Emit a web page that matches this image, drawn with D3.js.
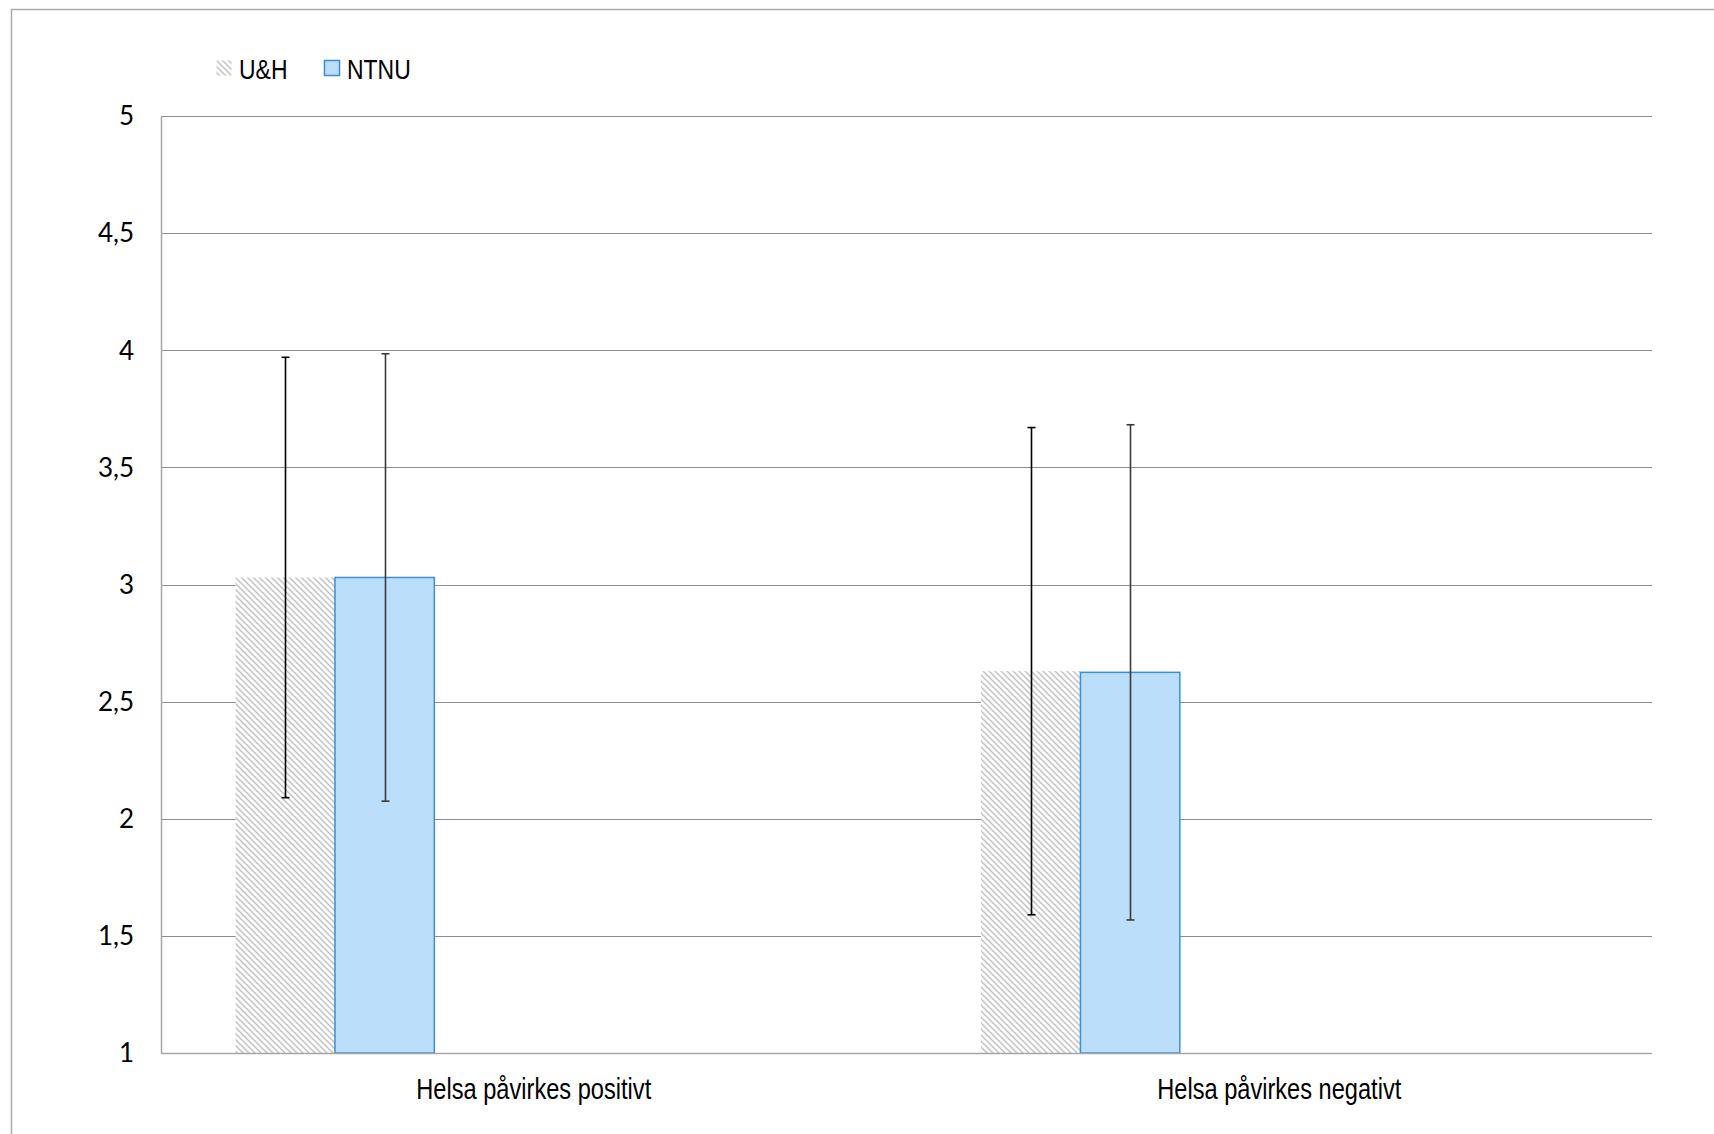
<!DOCTYPE html>
<html>
<head>
<meta charset="utf-8">
<script src="https://cdn.jsdelivr.net/npm/d3@7.9.0/dist/d3.min.js"></script>
<style>
  body { margin: 0; background: #fff; }
  svg { display: block; }
  .narrow { font-family: "Liberation Sans Narrow", "Arial Narrow", "Liberation Sans", sans-serif; }
  .tick-label { font-family: Lato, Carlito, Calibri, sans-serif; }
</style>
</head>
<body>
<svg id="chart" width="1714" height="1134"></svg>
<script>
const categories = ['Helsa påvirkes positivt', 'Helsa påvirkes negativt'];
const seriesNames = ['U&H', 'NTNU'];
// mean values and error bar half-widths, per series, per category
const uhMeans = [3.03, 2.63];
const uhErr = [0.94, 1.04];
const ntnuMeans = [3.03, 2.625];
const ntnuErr = [0.955, 1.057];
const yTicks = [1, 1.5, 2, 2.5, 3, 3.5, 4, 4.5, 5];

const means = [uhMeans, ntnuMeans];
const errs = [uhErr, ntnuErr];

const W = 1714, H = 1134;
const margin = { left: 161, right: W - 1652, top: 116, bottom: H - 1053 };
const squeeze = 0.82; // narrow font emulation

const svg = d3.select('#chart');

// hatch pattern for U&H
const defs = svg.append('defs');
const pat = defs.append('pattern')
  .attr('id', 'hatch')
  .attr('patternUnits', 'userSpaceOnUse')
  .attr('width', 6).attr('height', 6);
pat.append('rect').attr('width', 6).attr('height', 6).attr('fill', '#fff');
pat.append('path')
  .attr('d', 'M-1,-1 L7,7 M-1,5 L1,7 M5,-1 L7,1')
  .attr('stroke', '#c2c2c2')
  .attr('stroke-width', 1.5);

// outer frame
svg.append('path')
  .attr('d', `M11.5,${H} L11.5,9.5 L${W},9.5`)
  .attr('fill', 'none')
  .attr('stroke', '#ababab')
  .attr('stroke-width', 1.5);

const y = d3.scaleLinear().domain([1, 5]).range([H - margin.bottom, margin.top]);
const x0 = d3.scaleBand().domain(categories).range([margin.left, W - margin.right]);
// Excel-style clustered layout: 6 slots with 150% gap, only the first two used
const barW = x0.bandwidth() / 7.5;
const x1 = d3.scaleBand().domain(seriesNames)
  .range([barW * 0.75, barW * 2.75]);

// gridlines
svg.append('g')
  .selectAll('line')
  .data(yTicks.slice(1))
  .join('line')
  .attr('x1', margin.left).attr('x2', W - margin.right)
  .attr('y1', d => Math.round(y(d)) + 0.5).attr('y2', d => Math.round(y(d)) + 0.5)
  .attr('stroke', '#8c8c8c')
  .attr('stroke-width', 1.2);

// axes lines
svg.append('line')
  .attr('x1', margin.left + 0.5).attr('x2', margin.left + 0.5)
  .attr('y1', margin.top).attr('y2', y(1))
  .attr('stroke', '#a6a6a6').attr('stroke-width', 1.5);

// y tick labels
svg.append('g')
  .selectAll('text')
  .data(yTicks)
  .join('text')
  .attr('class', 'tick-label')
  .attr('x', 134)
  .attr('y', d => y(d))
  .attr('dy', '0.36em')
  .attr('text-anchor', 'end')
  .attr('font-size', 26)
  .attr('fill', '#000')
  .text(d => String(d).replace('.', ','));

// bars
const fills = ['url(#hatch)', '#bbdefb'];
const strokes = ['none', '#3a8ed4'];
seriesNames.forEach((s, si) => {
  const g = svg.append('g');
  g.selectAll('rect')
    .data(categories)
    .join('rect')
    .attr('x', d => x0(d) + x1(s))
    .attr('width', x1.bandwidth())
    .attr('y', (d, i) => y(means[si][i]))
    .attr('height', (d, i) => y(1) - y(means[si][i]))
    .attr('fill', fills[si])
    .attr('stroke', strokes[si])
    .attr('stroke-width', 1.5);
});

// bottom axis line
svg.append('line')
  .attr('x1', margin.left).attr('x2', W - margin.right)
  .attr('y1', y(1) + 0.5).attr('y2', y(1) + 0.5)
  .attr('stroke', '#a6a6a6').attr('stroke-width', 1.5);

// error bars
const errColors = ['#000', '#3a3a3a'];
seriesNames.forEach((s, si) => {
  categories.forEach((c, i) => {
    const cx = Math.round(x0(c) + x1(s) + x1.bandwidth() / 2) + 0.5;
    const hi = y(means[si][i] + errs[si][i]);
    const lo = y(means[si][i] - errs[si][i]);
    const g = svg.append('g').attr('stroke', errColors[si]).attr('stroke-width', 1.6);
    g.append('line').attr('x1', cx).attr('x2', cx).attr('y1', hi).attr('y2', lo);
    g.append('line').attr('x1', cx - 4).attr('x2', cx + 4).attr('y1', hi).attr('y2', hi);
    g.append('line').attr('x1', cx - 4).attr('x2', cx + 4).attr('y1', lo).attr('y2', lo);
  });
});

// category labels
svg.append('g')
  .selectAll('text')
  .data(categories)
  .join('text')
  .attr('class', 'narrow')
  .attr('transform', d => `translate(${x0(d) + x0.bandwidth() / 2},1099) scale(${squeeze},1)`)
  .attr('text-anchor', 'middle')
  .attr('font-size', 28.8)
  .attr('fill', '#000')
  .text(d => d);

// legend
const legendX = [216, 324];
const legend = svg.append('g');
seriesNames.forEach((s, si) => {
  legend.append('rect')
    .attr('x', legendX[si] + 0.5).attr('y', 60.5)
    .attr('width', 15).attr('height', 15)
    .attr('fill', fills[si])
    .attr('stroke', strokes[si])
    .attr('stroke-width', 1.5);
  legend.append('text')
    .attr('class', 'narrow')
    .attr('transform', `translate(${legendX[si] + 23},78.5) scale(${squeeze},1)`)
    .attr('font-size', 28)
    .attr('fill', '#000')
    .text(s);
});
</script>
</body>
</html>
